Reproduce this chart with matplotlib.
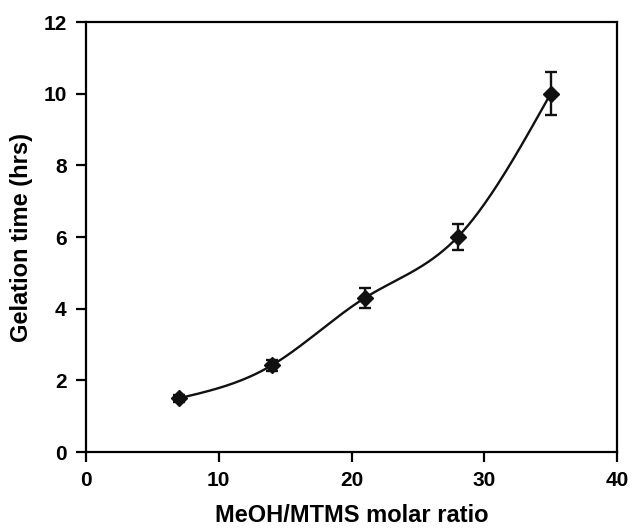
import numpy as np
import matplotlib
matplotlib.use('Agg')
import matplotlib.pyplot as plt

# data
ratio = [7, 14, 21, 28, 35]
gel_time = [1.5, 2.42, 4.3, 6.0, 10.0]
gel_err = [0.1, 0.15, 0.27, 0.35, 0.6]


def natural_spline(x, y, n=300):
    x = np.asarray(x, float)
    y = np.asarray(y, float)
    k = len(x)
    h = np.diff(x)
    A = np.zeros((k, k))
    b = np.zeros(k)
    A[0, 0] = A[-1, -1] = 1
    for i in range(1, k - 1):
        A[i, i - 1] = h[i - 1]
        A[i, i] = 2 * (h[i - 1] + h[i])
        A[i, i + 1] = h[i]
        b[i] = 6 * ((y[i + 1] - y[i]) / h[i] - (y[i] - y[i - 1]) / h[i - 1])
    M = np.linalg.solve(A, b)
    xs = np.linspace(x[0], x[-1], n)
    idx = np.clip(np.searchsorted(x, xs) - 1, 0, k - 2)
    x0, x1 = x[idx], x[idx + 1]
    hh = x1 - x0
    t0 = x1 - xs
    t1 = xs - x0
    ys = (M[idx] * t0**3 + M[idx + 1] * t1**3) / (6 * hh) \
        + (y[idx] / hh - M[idx] * hh / 6) * t0 \
        + (y[idx + 1] / hh - M[idx + 1] * hh / 6) * t1
    return xs, ys


plt.rcParams['font.family'] = ['Liberation Sans', 'DejaVu Sans']
plt.rcParams['font.weight'] = 'bold'

fig = plt.figure(figsize=(6.35, 5.28), dpi=100)
ax = fig.add_axes([0.1354, 0.1439, 0.8363, 0.8144])

xs, ys = natural_spline(ratio, gel_time)
ax.plot(xs, ys, color='#111111', lw=1.7)
ax.errorbar(ratio, gel_time, yerr=gel_err, fmt='D', color='#111111',
            ms=8.5, elinewidth=1.7, capsize=4, capthick=1.7)

ax.set_xlim(0, 40)
ax.set_ylim(0, 12)
ax.set_xticks([0, 10, 20, 30, 40])
ax.set_yticks([0, 2, 4, 6, 8, 10, 12])
ax.tick_params(direction='out', length=7, width=1.6, labelsize=15,
               top=False, right=False, pad=7)
for s in ax.spines.values():
    s.set_linewidth(1.6)

ax.set_xlabel('MeOH/MTMS molar ratio', fontsize=17, fontweight='bold', labelpad=10)
ax.set_ylabel('Gelation time (hrs)', fontsize=17, fontweight='bold', labelpad=7)

fig.savefig('out.png', dpi=100)
